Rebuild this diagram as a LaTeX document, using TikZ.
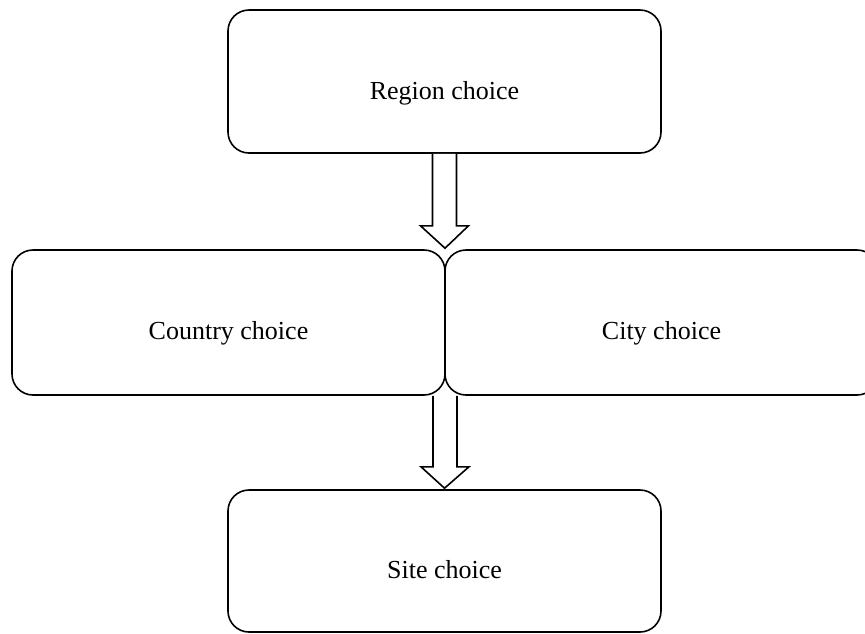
\documentclass[tikz,border=0pt]{standalone}
\usepackage{fontspec}
\setmainfont{Liberation Serif}
\usetikzlibrary{calc}
\begin{document}
\begin{tikzpicture}[x=1pt,y=-1pt,
  box/.style={draw=black, line width=1.6pt, rounded corners=21pt, inner sep=0pt,
    minimum width=433pt, font=\fontsize{26}{30}\selectfont, text height=35pt, text depth=0pt},
  blockarrow/.style={draw=black, line width=1.6pt, fill=white, line join=miter}]
\useasboundingbox (0,0) rectangle (865,633);
\clip (0,0) rectangle (865,633);
\node[box, minimum height=143pt] (region) at (444.5,81.5) {Region choice};
\node[box, minimum height=145pt, text height=33pt] (country) at (228.5,322.5) {Country choice};
\node[box, minimum height=145pt, text height=33pt] (city) at (661.5,322.5) {City choice};
\node[box, minimum height=142pt] (site) at (444.5,561) {Site choice};
\coordinate (gap) at ($(country.south east)!0.5!(city.south west)$);
\coordinate (tip1) at ($(country.north east)!0.5!(city.north west)+(0,-1)$);
\draw[blockarrow] ($(region.south)+(-12,0)$) -- ++(0,72) -- ++(-12,0) -- (tip1)
  -- ($(region.south)+(24,72)$) -- ++(-12,0) -- ($(region.south)+(12,0)$);
\draw[blockarrow] ($(gap)+(-12,0)$) -- ++(0,71) -- ++(-12,0) -- ($(site.north)+(0,-1)$)
  -- ($(gap)+(24,71)$) -- ++(-12,0) -- ($(gap)+(12,0)$);
\end{tikzpicture}
\end{document}
